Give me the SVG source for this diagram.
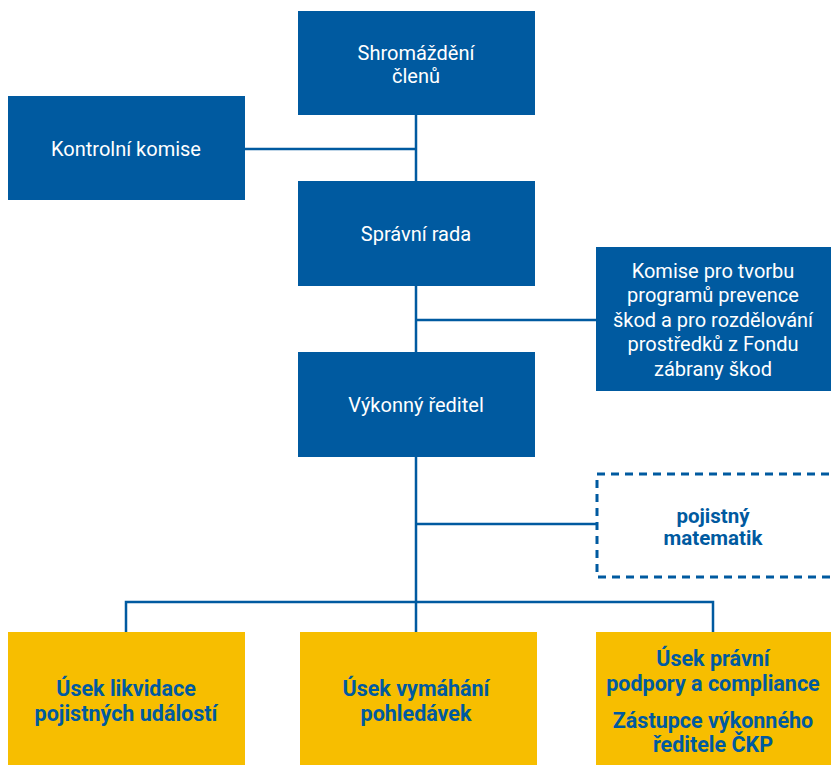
<svg xmlns="http://www.w3.org/2000/svg" width="831" height="765" viewBox="0 0 831 765">
<style>
.b{fill:#005AA0}
.y{fill:#F7BE00}
.d{fill:#fff;stroke:#005AA0;stroke-width:3;stroke-dasharray:8 6}
.w{fill:#fff;font-family:Roboto,"Liberation Sans",sans-serif;font-size:20px;text-anchor:middle}
.t{fill:#005AA0;font-family:Roboto,"Liberation Sans",sans-serif;font-size:20.5px;font-weight:bold;text-anchor:middle}
.u{font-size:21.5px}
.c{fill:none;stroke:#005AA0;stroke-width:2.5}
</style>
<rect width="831" height="765" fill="#fff"/>
<g id="connectors">
<path class="c" d="M416 115V602M245 149H416M416 320H596M416 524H596M126 632V602H713V632M416 602V632"/>
</g>
<g id="shromazdeni">
<rect class="b" x="298" y="11" width="237" height="104"/>
<text class="w" x="416" y="60">Shromáždění</text>
<text class="w" x="416" y="83">členů</text>
</g>
<g id="kontrolni">
<rect class="b" x="8" y="96" width="237" height="104"/>
<text class="w" x="126" y="156">Kontrolní komise</text>
</g>
<g id="spravni">
<rect class="b" x="298" y="181" width="237" height="105"/>
<text class="w" x="416" y="241">Správní rada</text>
</g>
<g id="komise">
<rect class="b" x="596" y="247" width="235" height="144"/>
<text class="w" x="713" y="278">Komise pro tvorbu</text>
<text class="w" x="713" y="302">programů prevence</text>
<text class="w" x="713" y="327">škod a pro rozdělování</text>
<text class="w" x="713" y="351">prostředků z Fondu</text>
<text class="w" x="713" y="376">zábrany škod</text>
</g>
<g id="vykonny">
<rect class="b" x="298" y="352" width="237" height="105"/>
<text class="w" x="416" y="412">Výkonný ředitel</text>
</g>
<g id="pojistny">
<rect class="d" x="597" y="474" width="240" height="103"/>
<text class="t" x="713" y="523">pojistný</text>
<text class="t" x="713" y="545">matematik</text>
</g>
<g id="likvidace">
<rect class="y" x="8" y="632" width="237" height="133"/>
<text class="t u" x="126" y="696">Úsek likvidace</text>
<text class="t u" x="126" y="721">pojistných událostí</text>
</g>
<g id="vymahani">
<rect class="y" x="300" y="632" width="237" height="133"/>
<text class="t u" x="416" y="696">Úsek vymáhání</text>
<text class="t u" x="416" y="721">pohledávek</text>
</g>
<g id="pravni">
<rect class="y" x="596" y="632" width="235" height="133"/>
<text class="t u" x="713" y="666">Úsek právní</text>
<text class="t u" x="713" y="691">podpory a compliance</text>
<text class="t u" x="713" y="728">Zástupce výkonného</text>
<text class="t u" x="713" y="752">ředitele ČKP</text>
</g>
</svg>
